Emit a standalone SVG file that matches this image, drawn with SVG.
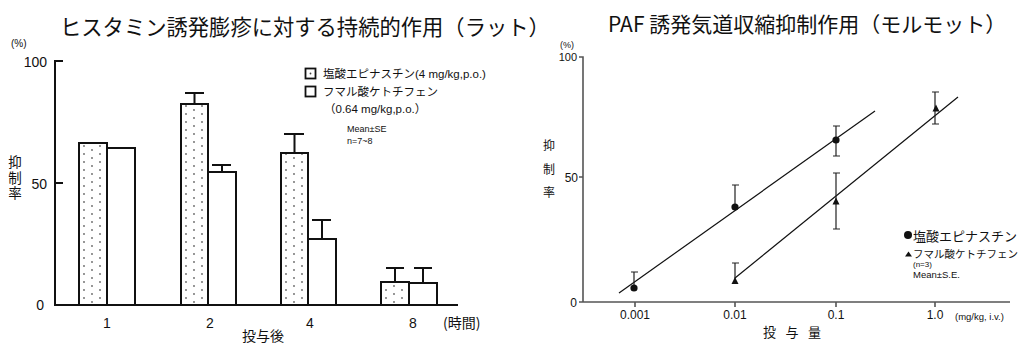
<svg xmlns="http://www.w3.org/2000/svg" width="1019" height="343" viewBox="0 0 1019 343">
<style>
.t{font-family:"Liberation Sans","Noto Sans CJK JP",sans-serif;fill:#111}
.j{font-family:"Noto Sans CJK JP","Liberation Sans",sans-serif;fill:#111}
.ax{stroke:#111;stroke-width:2;fill:none}
.ax2{stroke:#555;stroke-width:1.6;fill:none}
.bar{stroke:#111;stroke-width:2}
.eb{stroke:#111;stroke-width:2;fill:none}
.ln{stroke:#111;stroke-width:1.2;fill:none}
.eb2{stroke:#222;stroke-width:1.2;fill:none}
</style>
<defs>
<pattern id="dots" patternUnits="userSpaceOnUse" x="0" y="0" width="16" height="8">
<rect width="16" height="8" fill="#fff"/>
<circle cx="5" cy="2" r="0.9" fill="#666"/>
<circle cx="13" cy="6" r="0.9" fill="#666"/>
</pattern>
</defs>
<rect width="1019" height="343" fill="#fff"/>

<g id="left-chart">
<text class="j" x="60" y="35" font-size="21.3">ヒスタミン誘発膨疹に対する持続的作用（ラット）</text>
<text class="t" x="11" y="47" font-size="10" fill="#444">(%)</text>
<g id="left-axes">
<path class="ax" d="M63,61 H55 V305 H458 M55,183 H63"/>
<text class="t" x="47" y="67" font-size="14" text-anchor="end">100</text>
<text class="t" x="47" y="189" font-size="14" text-anchor="end">50</text>
<text class="t" x="44" y="310" font-size="14" text-anchor="end">0</text>
<text class="t" x="15" y="167" font-size="13.5" text-anchor="middle">抑</text>
<text class="t" x="15" y="182.5" font-size="13.5" text-anchor="middle">制</text>
<text class="t" x="15" y="198" font-size="13.5" text-anchor="middle">率</text>
<text class="t" x="107" y="328" font-size="14" text-anchor="middle">1</text>
<text class="t" x="210" y="328" font-size="14" text-anchor="middle">2</text>
<text class="t" x="310" y="328" font-size="14" text-anchor="middle">4</text>
<text class="t" x="413" y="328" font-size="14" text-anchor="middle">8</text>
<text class="j" x="443" y="328" font-size="14">(時間)</text>
<text class="j" x="242" y="341" font-size="14">投与後</text>
</g>
<g id="bars">
<g transform="translate(79,0)"><rect class="bar" x="0" y="143" width="28" height="162" fill="url(#dots)"/></g>
<rect class="bar" x="107" y="148" width="28" height="157" fill="#fff"/>
<g transform="translate(181,0)"><rect class="bar" x="0" y="104" width="27" height="201" fill="url(#dots)"/></g>
<path class="eb" d="M194.5,104 V93 M185,93 H204"/>
<rect class="bar" x="208" y="172" width="28" height="133" fill="#fff"/>
<path class="eb" d="M222,172 V165 M212,165 H231"/>
<g transform="translate(281,0)"><rect class="bar" x="0" y="153" width="27" height="152" fill="url(#dots)"/></g>
<path class="eb" d="M294.5,153 V134 M284,134 H304"/>
<rect class="bar" x="308" y="239" width="28" height="66" fill="#fff"/>
<path class="eb" d="M322,239 V220 M312,220 H331"/>
<g transform="translate(381,0)"><rect class="bar" x="0" y="282" width="28" height="23" fill="url(#dots)"/></g>
<path class="eb" d="M395,282 V268 M386,268 H404"/>
<rect class="bar" x="409" y="283" width="28" height="22" fill="#fff"/>
<path class="eb" d="M423,283 V268 M414,268 H432"/>
</g>
<g id="left-legend">
<rect x="305.5" y="68.5" width="10" height="10" fill="#fff" stroke="#111" stroke-width="1.8"/>
<circle cx="310.5" cy="73.5" r="0.9" fill="#444"/>
<text class="t" x="323" y="78" font-size="11.5">塩酸エピナスチン(4 mg/kg,p.o.)</text>
<rect x="305.5" y="86.5" width="10" height="10" fill="#fff" stroke="#111" stroke-width="1.8"/>
<text class="t" x="323" y="96" font-size="11.5">フマル酸ケトチフェン</text>
<text class="t" x="324" y="113" font-size="11.5">（0.64 mg/kg,p.o.）</text>
<text class="t" x="347" y="132" font-size="9">Mean±SE</text>
<text class="t" x="347" y="144" font-size="9">n=7~8</text>
</g>
</g>

<g id="right-chart">
<text class="j" x="608" y="32" font-size="21">PAF 誘発気道収縮抑制作用（モルモット）</text>
<text class="t" x="560" y="48" font-size="9">(%)</text>
<g id="right-axes">
<path class="ax2" d="M579,57 H583 V302 H1010 M579,177 H583 M579,302 H583 M635,302 V307 M735,302 V307 M836,302 V307 M935,302 V307"/>
<text class="t" x="577" y="61" font-size="11" text-anchor="end">100</text>
<text class="t" x="578" y="182" font-size="12" text-anchor="end">50</text>
<text class="t" x="577" y="307" font-size="12" text-anchor="end">0</text>
<text class="j" x="549" y="150" font-size="12" text-anchor="middle">抑</text>
<text class="j" x="549" y="174" font-size="12" text-anchor="middle">制</text>
<text class="j" x="549" y="197" font-size="12" text-anchor="middle">率</text>
<text class="t" x="635" y="319" font-size="12" text-anchor="middle">0.001</text>
<text class="t" x="735" y="319" font-size="12" text-anchor="middle">0.01</text>
<text class="t" x="836" y="319" font-size="12" text-anchor="middle">0.1</text>
<text class="t" x="935" y="319" font-size="12" text-anchor="middle">1.0</text>
<text class="t" x="955" y="320" font-size="9.5">(mg/kg, i.v.)</text>
<text class="j" x="763" y="337" font-size="13" letter-spacing="9.5">投与量</text>
</g>
<g id="series-epinastine">
<path class="ln" d="M619,293 L875,111"/>
<path class="eb2" d="M634,288 V272 M631,272 H638 M735,207 V185 M732,185 H739 M836,126 V156 M833,126 H840 M833,156 H840"/>
<circle cx="634" cy="288" r="3.6" fill="#111"/>
<circle cx="735" cy="207" r="3.6" fill="#111"/>
<circle cx="836" cy="140" r="3.6" fill="#111"/>
</g>
<g id="series-ketotifen">
<path class="ln" d="M735,278 L958,97"/>
<path class="eb2" d="M735,282 V263 M732,263 H739 M836,173 V229 M833,173 H840 M833,229 H840 M935,92 V124 M932,92 H939 M932,124 H939"/>
<path d="M735,277 L731.5,284 L738.5,284 Z" fill="#111"/>
<path d="M836,197.5 L832.5,204.5 L839.5,204.5 Z" fill="#111"/>
<path d="M936,104.5 L932.5,111.5 L939.5,111.5 Z" fill="#111"/>
</g>
<g id="right-legend">
<circle cx="908" cy="235" r="4" fill="#111"/>
<text class="t" x="913" y="241" font-size="13">塩酸エピナスチン</text>
<path d="M908.5,251.5 L905,256.5 L912,256.5 Z" fill="#111"/>
<text class="t" x="913" y="258" font-size="10.5">フマル酸ケトチフェン</text>
<text class="t" x="913" y="267" font-size="8">(n=3)</text>
<text class="t" x="913" y="278" font-size="9.5">Mean±S.E.</text>
</g>
</g>
</svg>
